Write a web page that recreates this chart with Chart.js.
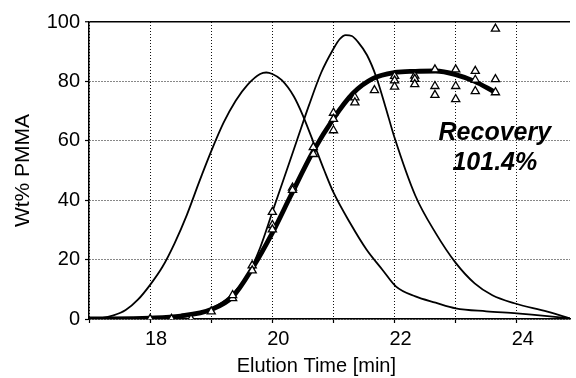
<!DOCTYPE html>
<html>
<head>
<meta charset="utf-8">
<title>Wt% PMMA vs elution time</title>
<script src="https://cdn.jsdelivr.net/npm/chart.js@4.4.0/dist/chart.umd.min.js"></script>
<style>
  html, body { margin: 0; padding: 0; background: #fff; }
  #wrap { width: 576px; height: 378px; }
</style>
</head>
<body>
<div id="wrap"><canvas id="chart" width="576" height="378"></canvas></div>
<script>
/* data */
const peakATime = [17.0, 17.2, 17.4, 17.6, 17.8, 18.0, 18.2, 18.4, 18.6, 18.8, 19.0, 19.2, 19.4, 19.6, 19.8, 19.9, 20.0, 20.15, 20.35, 20.5, 20.7, 20.85, 21.0, 21.27, 21.54, 21.8, 22.02, 22.34, 22.67, 23.0, 23.5, 24.0, 24.5, 24.87];
const peakAWt = [0, 0.3, 1.2, 3.0, 6.5, 11.5, 17.5, 25.5, 35.0, 46.0, 56.5, 66.0, 73.5, 79.0, 82.5, 83.0, 82.5, 80.5, 75.0, 68.5, 58.0, 50.0, 42.6, 32.4, 23.4, 16.6, 11.0, 7.6, 5.5, 3.6, 2.6, 1.9, 1.0, 0.2];

const peakBTime = [17.0, 18.0, 18.5, 19.0, 19.3, 19.6, 19.8, 20.0, 20.2, 20.4, 20.6, 20.8, 21.0, 21.1, 21.2, 21.3, 21.4, 21.55, 21.7, 21.85, 22.0, 22.34, 22.67, 23.0, 23.31, 23.6, 23.96, 24.5, 24.87];
const peakBWt = [0, 0.1, 0.6, 3.5, 7.5, 15.0, 24.0, 36.0, 48.0, 60.0, 72.0, 83.0, 91.0, 94.2, 95.6, 95.3, 93.3, 88.8, 81.5, 71.5, 61.0, 41.5, 29.0, 18.9, 12.0, 8.0, 5.3, 2.5, 0.2];

const fitTime = [17.0, 18.0, 18.5, 19.0, 19.35, 19.67, 20.0, 20.3, 20.67, 21.0, 21.32, 21.65, 22.0, 22.34, 22.67, 23.0, 23.31, 23.63];
const fitWt = [0, 0.3, 1.0, 3.2, 7.5, 17.0, 29.0, 41.5, 56.5, 67.5, 76.0, 81.0, 83.0, 83.4, 83.5, 82.3, 80.0, 76.5];

const sampleTime = [18.0, 18.35, 18.67, 19.0, 19.35, 19.35, 19.67, 19.67, 20.0, 20.0, 20.0, 20.33, 20.33, 20.67, 20.67,
  21.0, 21.0, 21.0, 21.35, 21.35, 21.67, 22.0, 22.0, 22.0, 22.33, 22.33, 22.33,
  22.66, 22.66, 22.66, 23.0, 23.0, 23.0, 23.32, 23.32, 23.32, 23.65, 23.65, 23.65];
const sampleWt = [0, 0, 0, 2.5, 7.0, 8.0, 18.0, 16.3, 36.0, 31.6, 30.1, 44.2, 43.4, 57.8, 55.5,
  69.4, 67.3, 63.5, 74.6, 72.9, 77.0, 81.8, 80.3, 78.2, 81.9, 80.8, 79.0,
  84.0, 78.4, 75.4, 84.0, 78.4, 74.0, 83.5, 80.5, 76.7, 97.7, 80.7, 76.3];

const xTickValues = [17, 18, 19, 20, 21, 22, 23, 24];
const xLabelValues = [18, 20, 22, 24];
const yTickValues = [0, 20, 40, 60, 80, 100];

const FONT = "'Liberation Sans', Arial, Helvetica, sans-serif";
const INK = "#000";
const GRID_DOT = "#111";

function toPoints(xs, ys) {
  return xs.map((x, i) => ({ x: x, y: ys[i] }));
}

/* free text: x title and the recovery note */
const notePlugin = {
  id: "note",
  afterDraw(chart) {
    const ctx = chart.ctx;
    const sx = chart.scales.x;
    const sy = chart.scales.y;
    ctx.save();
    ctx.fillStyle = INK;
    ctx.textAlign = "center";
    ctx.textBaseline = "alphabetic";
    ctx.font = "italic bold 25px " + FONT;
    ctx.fillText("Recovery", sx.getPixelForValue(23.64), sy.getPixelForValue(60.2));
    ctx.fillText("101.4%", sx.getPixelForValue(23.64), sy.getPixelForValue(50.1));
    ctx.font = "20px " + FONT;
    ctx.textBaseline = "middle";
    ctx.fillText("Elution Time [min]", sx.getPixelForValue(20.72), 366);
    ctx.restore();
  }
};

new Chart(document.getElementById("chart"), {
  type: "scatter",
  data: {
    datasets: [
      {
        label: "samples",
        data: toPoints(sampleTime, sampleWt),
        showLine: false,
        pointStyle: "triangle",
        pointRadius: 4.7,
        pointBackgroundColor: "#fff",
        pointBorderColor: INK,
        pointBorderWidth: 1.3
      },
      {
        label: "fit",
        data: toPoints(fitTime, fitWt),
        showLine: true,
        borderColor: INK,
        borderWidth: 4.8,
        pointRadius: 0,
        cubicInterpolationMode: "monotone"
      },
      {
        label: "peak A",
        data: toPoints(peakATime, peakAWt),
        showLine: true,
        borderColor: INK,
        borderWidth: 1.8,
        pointRadius: 0,
        cubicInterpolationMode: "monotone"
      },
      {
        label: "peak B",
        data: toPoints(peakBTime, peakBWt),
        showLine: true,
        borderColor: INK,
        borderWidth: 1.8,
        pointRadius: 0,
        cubicInterpolationMode: "monotone"
      }
    ]
  },
  options: {
    responsive: false,
    devicePixelRatio: 1,
    animation: false,
    layout: { padding: { top: 22, right: 0, bottom: 0, left: 0 } },
    plugins: {
      legend: { display: false },
      tooltip: { enabled: false }
    },
    scales: {
      x: {
        type: "linear",
        min: 17,
        max: 24.87,
        afterBuildTicks: (axis) => { axis.ticks = xTickValues.map((v) => ({ value: v })); },
        afterFit: (scale) => { scale.height = 59; },
        ticks: {
          autoSkip: false,
          maxRotation: 0,
          includeBounds: false,
          padding: 4,
          labelOffset: 6,
          color: INK,
          font: { family: FONT, size: 20 }
          ,callback: (v) => (xLabelValues.includes(v) ? String(v) : "")
        },
        grid: {
          color: GRID_DOT,
          lineWidth: 1,
          tickLength: 4,
          tickColor: INK,
          tickWidth: 1.2
        },
        border: { display: true, color: INK, width: 1.5, dash: [1, 2] }
      },
      y: {
        min: 0,
        max: 100,
        afterBuildTicks: (axis) => { axis.ticks = yTickValues.map((v) => ({ value: v })); },
        afterFit: (scale) => { scale.width = 89; },
        ticks: {
          padding: 5,
          color: INK,
          font: { family: FONT, size: 20 }
        },
        grid: {
          color: (c) => (c.tick && c.tick.value === 100 ? INK : GRID_DOT),
          lineWidth: (c) => (c.tick && c.tick.value === 100 ? 1.5 : 1),
          tickLength: 4,
          tickColor: INK,
          tickWidth: 1.2
        },
        border: {
          display: true,
          color: INK,
          width: 1.5,
          dash: (c) => (c.tick && c.tick.value === 100 ? [] : [1, 2])
        },
        title: {
          display: true,
          text: "Wt% PMMA",
          color: INK,
          font: { family: FONT, size: 21 },
          padding: { top: 11, bottom: 0 }
        }
      }
    }
  },
  plugins: [notePlugin]
});
</script>
</body>
</html>
